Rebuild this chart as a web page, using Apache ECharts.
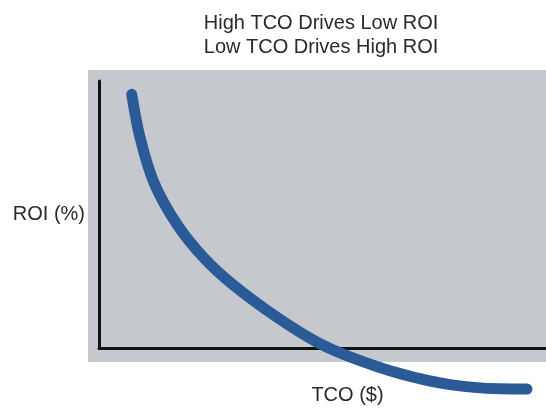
<!DOCTYPE html>
<html>
<head>
<meta charset="utf-8">
<script src="https://cdn.jsdelivr.net/npm/echarts@6/dist/echarts.min.js"></script>
<style>html,body{margin:0;padding:0;background:#fff}#c{width:546px;height:410px}</style>
</head>
<body>
<div id="c"></div>
<script>
var titleLines = ['High TCO Drives Low ROI', 'Low TCO Drives High ROI'];
var xName = 'TCO ($)';
var yName = 'ROI (%)';
var tco = [7.32, 9.17, 12.30, 17.45, 23.49, 29.98, 39.82, 48.77, 56.15, 67.34, 78.52, 89.71, 95.75];
var roi = [95.0, 78.9, 61.9, 46.3, 33.7, 23.7, 11.5, 2.2, -3.3, -9.6, -13.7, -15.3, -15.4];

var chart = echarts.init(document.getElementById('c'), null, {renderer: 'canvas'});
var font = 'Liberation Sans, Arial, sans-serif';
chart.setOption({
  animation: false,
  backgroundColor: '#fff',
  title: {
    text: titleLines.join('\n'),
    left: 316, top: 6, textAlign: 'center',
    textStyle: {fontFamily: font, fontSize: 20, fontWeight: 'normal', color: '#2a2a2a', lineHeight: 24}
  },
  graphic: [{
    type: 'rect', left: 88, top: 70, z: -10,
    shape: {width: 458, height: 292},
    style: {fill: '#c5c9ce'}
  }],
  grid: {left: 99, right: 0, top: 81, bottom: 59},
  xAxis: {
    type: 'value', min: 0, max: 100,
    name: xName, nameLocation: 'middle', nameGap: 37,
    nameTextStyle: {fontFamily: font, fontSize: 20, color: '#2a2a2a', padding: [0, 0, 0, 50]},
    axisLine: {show: true, onZero: false, lineStyle: {color: '#111', width: 3}},
    axisTick: {show: false}, axisLabel: {show: false}, splitLine: {show: false}
  },
  yAxis: {
    type: 'value', min: 0, max: 100,
    name: yName, nameLocation: 'middle', nameGap: 14, nameRotate: 0,
    nameTextStyle: {fontFamily: font, fontSize: 20, color: '#2a2a2a', padding: [0, 0, 18, 0]},
    axisLine: {show: true, onZero: false, lineStyle: {color: '#111', width: 3}},
    axisTick: {show: false}, axisLabel: {show: false}, splitLine: {show: false}
  },
  series: [{
    type: 'line',
    data: tco.map(function (x, i) { return [x, roi[i]]; }),
    smooth: 0.35,
    showSymbol: false,
    clip: false,
    lineStyle: {color: '#2a5b97', width: 11, cap: 'round', join: 'round'}
  }]
});
</script>
</body>
</html>
